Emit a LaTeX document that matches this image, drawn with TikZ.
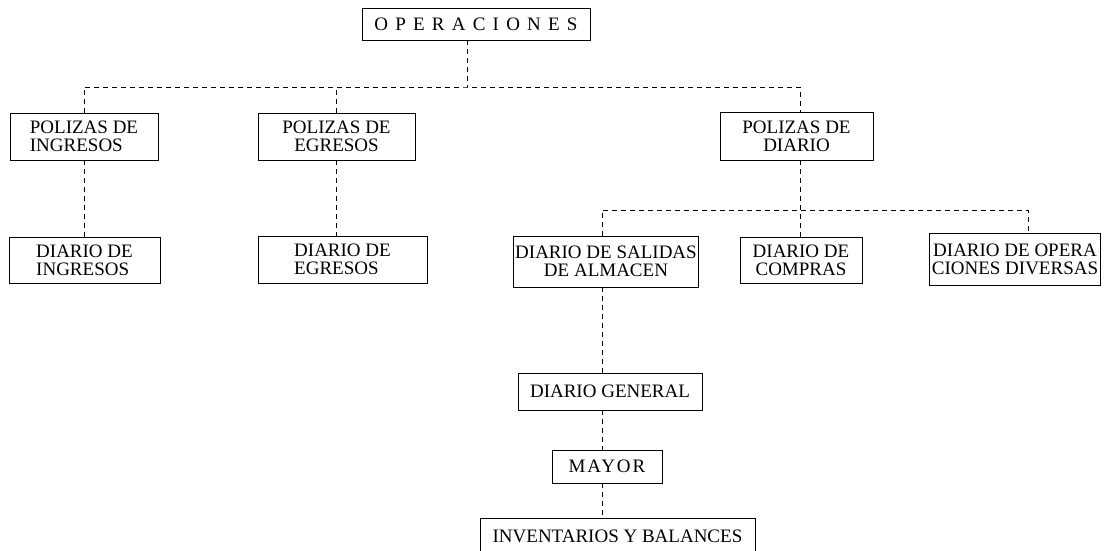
\documentclass[tikz,border=0pt]{standalone}
\usepackage{fontspec}
\setmainfont{Liberation Serif}

\begin{document}
\begin{tikzpicture}
[x=1pt,y=-1pt,%
  every node/.style={shape=rectangle,draw,line width=0.9pt,inner sep=2pt,align=center},%
  linea/.style={line width=0.9pt,dash pattern=on 5pt off 4pt}]
\useasboundingbox (0,0) rectangle (1106,550);
\fontsize{19}{18}\selectfont
\node[minimum width=228pt,minimum height=32pt] (ope) at (476,24) {\addfontfeature{LetterSpace=38}OPERACIONES};
\node[minimum width=148pt,minimum height=47pt,align=left] (pi) at (84,136.5) {POLIZAS DE\\INGRESOS};
\node[minimum width=157pt,minimum height=47pt] (pe) at (336.5,136.5) {POLIZAS DE\\EGRESOS};
\node[minimum width=153pt,minimum height=48pt] (pd) at (796.5,136) {POLIZAS DE\\DIARIO};
\node[minimum width=151pt,minimum height=46pt,align=left] (di) at (84.5,260) {DIARIO DE\\INGRESOS};
\node[minimum width=169pt,minimum height=47pt,align=left] (de) at (342.5,259.5) {DIARIO DE\\EGRESOS};
\node[minimum width=182pt,minimum height=51pt] (ds) at (606,261.5) {DIARIO DE SALIDAS\\DE ALMACEN};
\node[minimum width=122pt,minimum height=46pt] (dc) at (801,260) {DIARIO DE\\COMPRAS};
\node[minimum width=171pt,minimum height=52pt] (dod) at (1015,259) {DIARIO DE OPERA\\CIONES DIVERSAS};
\node[minimum width=184pt,minimum height=37pt] (dg) at (610,391.5) {DIARIO GENERAL};
\node[minimum width=110pt,minimum height=33pt] (may) at (607,466.5) {\addfontfeature{LetterSpace=10}MAYOR};
\node[minimum width=275pt,minimum height=37pt] (inv) at (617.5,536.5) {INVENTARIOS Y BALANCES};
% puntos de las lineas
\coordinate (b1) at (467,87);
\coordinate (b2) at (800,210);
\coordinate (b2i) at (602,210);
\coordinate (b2d) at (1028,210);
\draw[linea] (ope.south -| b1) -- (b1);
\draw[linea] (pi.north) |- (b1) -| (pd.north -| b2);
\draw[linea] (pe.north) -- (pe.north |- b1);
\draw[linea] (pi.south) -- (pi.south |- di.north);
\draw[linea] (pe.south) -- (pe.south |- de.north);
\draw[linea] (pd.south -| b2) -- (dc.north -| b2);
\draw[linea] (b2i |- ds.north) -- (b2i) -- (b2d) -- (b2d |- dod.north);
\draw[linea] (ds.south -| b2i) -- (dg.north -| b2i);
\draw[linea] (dg.south -| b2i) -- (may.north -| b2i);
\draw[linea] (may.south -| b2i) -- (inv.north -| b2i);
\end{tikzpicture}
\end{document}
